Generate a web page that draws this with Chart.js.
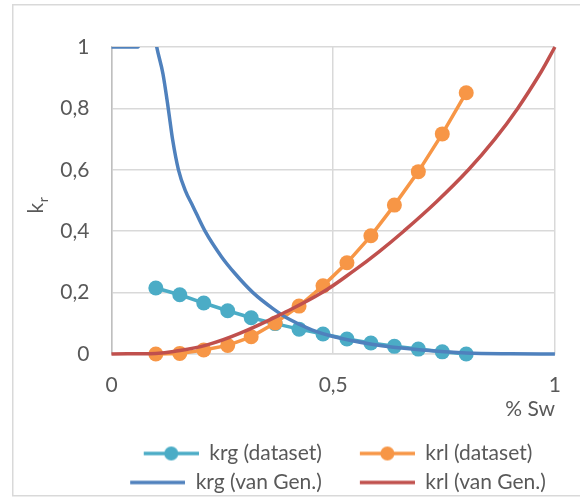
<!DOCTYPE html>
<html>
<head>
<meta charset="utf-8">
<script src="https://cdn.jsdelivr.net/npm/chart.js@4.4.1/dist/chart.umd.min.js"></script>
<style>
  html, body { margin: 0; padding: 0; background: #fff; }
</style>
</head>
<body>
<canvas id="kr-chart" width="580" height="497"></canvas>
<script>
// measured points (dataset)
const swDataset = [0.100, 0.154, 0.208, 0.262, 0.315, 0.369, 0.423, 0.477, 0.531, 0.585, 0.638, 0.692, 0.746, 0.800];
const krgDataset = [0.215, 0.193, 0.166, 0.141, 0.118, 0.099, 0.081, 0.065, 0.049, 0.036, 0.025, 0.016, 0.007, 0.000];
const krlDataset = [0.000, 0.002, 0.013, 0.028, 0.056, 0.101, 0.156, 0.222, 0.297, 0.385, 0.485, 0.594, 0.717, 0.851];

// van Genuchten curves
const swKrgVanGen = [0, 0.03, 0.06, 0.075, 0.09, 0.102, 0.116, 0.128, 0.138, 0.151, 0.166, 0.184, 0.211, 0.248, 0.278, 0.319, 0.364, 0.401, 0.453, 0.5, 0.587, 0.7, 0.8, 0.9, 1];
const krgVanGen = [1, 1, 1, 1.12, 1.1, 1.0, 0.913, 0.8, 0.697, 0.6, 0.534, 0.48, 0.4, 0.317, 0.263, 0.2, 0.148, 0.113, 0.078, 0.057, 0.032, 0.013, 0.003, 0.0005, 0];
const swKrlVanGen = [0, 0.1, 0.14, 0.214, 0.289, 0.386, 0.475, 0.55, 0.603, 0.659, 0.733, 0.805, 0.864, 0.916, 0.968, 1];
const krlVanGen = [0, 0.002, 0.008, 0.029, 0.067, 0.132, 0.2, 0.275, 0.333, 0.4, 0.496, 0.6, 0.699, 0.8, 0.917, 1];

const xTicks = [0, 0.5, 1];
const yTicks = [0, 0.2, 0.4, 0.6, 0.8, 1];

const seriesNames = ["krg (dataset)", "krl (dataset)", "krg (van Gen.)", "krl (van Gen.)"];
const colors = ["#4BACC6", "#F79646", "#4F81BD", "#C0504D"];

const FONT = "Lato";
const TEXT = "#595959";
const GRID = "#D9D9D9";

const toXY = (xs, ys) => xs.map((x, i) => ({ x: x, y: ys[i] }));
const comma = v => String(Math.round(v * 10) / 10).replace(".", ",");

// legend symbol: short line, optional dot; left part left empty as spacing
const LEG_GAP = 30;
function legendSymbol(color, dot) {
  const c = document.createElement("canvas");
  c.width = 55 + LEG_GAP;
  c.height = 16;
  const g = c.getContext("2d");
  g.strokeStyle = color;
  g.lineWidth = 3.5;
  g.beginPath();
  g.moveTo(LEG_GAP, 8);
  g.lineTo(LEG_GAP + 55, 8);
  g.stroke();
  if (dot) {
    g.fillStyle = color;
    g.beginPath();
    g.arc(LEG_GAP + 27.5, 8, 7, 0, Math.PI * 2);
    g.fill();
  }
  return c;
}
const legendSymbols = [
  legendSymbol(colors[0], true),
  legendSymbol(colors[1], true),
  legendSymbol(colors[2], false),
  legendSymbol(colors[3], false)
];

const framePlugin = {
  id: "frame",
  beforeDraw(chart) {
    const ctx = chart.ctx;
    ctx.save();
    ctx.strokeStyle = GRID;
    ctx.lineWidth = 1.5;
    ctx.strokeRect(12.75, 4.75, 700, 491);
    ctx.restore();
  }
};

// y title "k" with subscript "r"
const yTitlePlugin = {
  id: "ytitle",
  afterDraw(chart) {
    const ctx = chart.ctx;
    ctx.save();
    ctx.translate(43, 213.5);
    ctx.rotate(-Math.PI / 2);
    ctx.fillStyle = TEXT;
    ctx.textBaseline = "alphabetic";
    ctx.font = "21px " + FONT;
    ctx.fillText("k", 0, 0);
    const w = ctx.measureText("k").width;
    ctx.font = "14px " + FONT;
    ctx.fillText("r", w + 0.5, 5);
    ctx.restore();
  }
};

const legendShift = {
  id: "legendShift",
  afterLayout(chart) {
    const lg = chart.legend;
    lg.left += 44;
    lg.right += 44;
    lg.top += 6;
    lg.bottom += 6;
  }
};

function curve(i, xs, ys, order, clip, smooth) {
  const ds = {
    label: seriesNames[i],
    data: toXY(xs, ys),
    showLine: true,
    borderColor: colors[i],
    backgroundColor: colors[i],
    borderWidth: 3.5,
    pointRadius: 0,
    order: order,
    clip: clip
  };
  if (smooth === "monotone") ds.cubicInterpolationMode = "monotone";
  else ds.tension = 0.4;
  return ds;
}

function markers(i, xs, ys, order) {
  return {
    label: seriesNames[i],
    data: toXY(xs, ys),
    showLine: true,
    borderColor: colors[i],
    backgroundColor: colors[i],
    borderWidth: 3.5,
    pointRadius: 7.5,
    pointBorderWidth: 0,
    order: order,
    clip: false
  };
}

const ctx = document.getElementById("kr-chart").getContext("2d");
new Chart(ctx, {
  type: "scatter",
  data: {
    datasets: [
      markers(0, swDataset, krgDataset, 3),
      markers(1, swDataset, krlDataset, 2),
      curve(2, swKrgVanGen, krgVanGen, 1, { left: 2, top: 0, right: 2, bottom: 3 }, "monotone"),
      curve(3, swKrlVanGen, krlVanGen, 0, false, "bezier")
    ]
  },
  options: {
    responsive: false,
    animation: false,
    devicePixelRatio: 1,
    layout: { padding: { left: 0, top: 47, right: 22, bottom: 0 } },
    scales: {
      x: {
        type: "linear",
        min: 0,
        max: 1,
        afterBuildTicks: s => { s.ticks = xTicks.map(v => ({ value: v })); },
        afterFit: s => { s.height = 75; },
        grid: { color: GRID, lineWidth: 1.5, drawTicks: false },
        border: { color: GRID, width: 1.5 },
        ticks: {
          padding: 19,
          color: TEXT,
          font: { family: FONT, size: 21 },
          callback: v => comma(v),
          maxRotation: 0
        },
        title: {
          display: true,
          text: "% Sw",
          align: "end",
          color: TEXT,
          font: { family: FONT, size: 21 },
          padding: { top: 0, bottom: 7 }
        }
      },
      y: {
        type: "linear",
        min: 0,
        max: 1,
        afterBuildTicks: s => { s.ticks = yTicks.map(v => ({ value: v })); },
        afterFit: s => { s.width = 111.5; },
        grid: { color: GRID, lineWidth: 1.5, drawTicks: false },
        border: { color: "#BFBFBF", width: 1.5 },
        ticks: {
          padding: 22,
          color: TEXT,
          font: { family: FONT, size: 21 },
          callback: v => comma(v)
        }
      }
    },
    plugins: {
      tooltip: { enabled: false },
      legend: {
        position: "bottom",
        labels: {
          color: TEXT,
          font: { family: FONT, size: 21 },
          padding: 8,
          usePointStyle: true,
          pointStyleWidth: 55 + LEG_GAP,
          generateLabels(chart) {
            const items = Chart.defaults.plugins.legend.labels.generateLabels(chart);
            items.sort((a, b) => a.datasetIndex - b.datasetIndex);
            items.forEach(it => { it.pointStyle = legendSymbols[it.datasetIndex]; });
            return items;
          }
        }
      }
    }
  },
  plugins: [framePlugin, yTitlePlugin, legendShift]
});
</script>
</body>
</html>
